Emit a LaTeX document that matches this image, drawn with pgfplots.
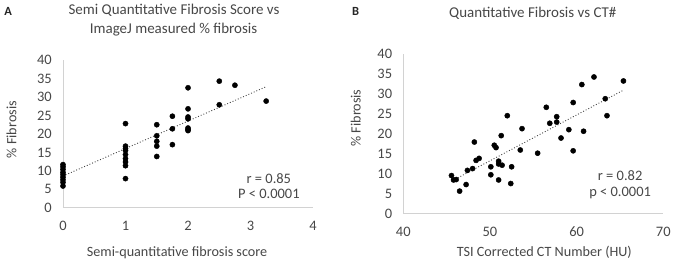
\documentclass[border=0pt]{standalone}
\usepackage{fontspec}
\setmainfont{Carlito}
\usepackage{pgfplots}
\pgfplotsset{compat=1.18}
\colorlet{txt}{black!72}
\begin{document}
\fontsize{13}{15}\selectfont
\begin{tikzpicture}[x=1pt,y=1pt]
\path (0,0) rectangle (673,259);
\pgfplotsset{
  common/.style={
    scale only axis,
    anchor=south west,
    axis x line*=bottom,
    axis y line*=left,
    axis line style={draw=gray!35, line width=0.8pt},
    major tick length=0pt,
    tick style={draw=none},
    /pgf/number format/assume math mode=true,
    tick label style={font=\fontsize{14.5}{16}\selectfont, text=txt},
    yticklabel style={anchor=east, inner sep=0pt, xshift=-11pt},
    xticklabel style={anchor=north, inner sep=0pt, yshift=-13pt},
    clip=false,
  },
  pts/.style={only marks, mark=*, mark size=2.6pt, color=black},
  trend/.style={no marks, dotted, line width=0.9pt, color=black!75},
}
% Panel A
\begin{axis}[common, at={(61.7pt,54pt)}, width=250.6pt, height=148pt,
  xmin=0, xmax=4, ymin=0, ymax=40, xtick={0,1,2,3,4}, ytick={0,5,...,40}]
\addplot[pts] coordinates {
 (0,11.7) (0,11.1) (0,10.4) (0,9.6) (0,9.0) (0,8.3) (0,7.6) (0,6.9) (0,5.9)
 (1,22.8) (1,16.7) (1,16.0) (1,15.5) (1,14.4) (1,13.3) (1,12.4) (1,11.4) (1,7.9)
 (1.5,22.5) (1.5,19.5) (1.5,18.0) (1.5,16.7) (1.5,13.9)
 (1.75,24.8) (1.75,21.4) (1.75,17.1)
 (2,32.5) (2,26.8) (2,24.6) (2,24.1) (2,21.6) (2,21.2) (2,20.9)
 (2.5,34.3) (2.5,27.9) (2.75,33.2) (3.25,28.9)
};
\addplot[trend] coordinates {(0,8.6) (3.25,32.8)};
\end{axis}
% Panel B
\begin{axis}[common, at={(402.7pt,48.3pt)}, width=260.6pt, height=160pt,
  xmin=40, xmax=70, ymin=0, ymax=40, xtick={40,50,60,70}, ytick={0,5,...,40}]
\addplot[pts] coordinates {
 (45.56,9.5) (45.8,8.4) (46.1,8.5) (46.5,5.6) (47.25,7.25) (47.4,10.8)
 (48.0,11.25) (48.2,17.9) (48.4,13.3) (48.75,13.8) (50.1,11.7) (50.1,9.7)
 (50.5,17.1) (50.7,16.5) (51.0,13.1) (51.0,12.4) (51.0,8.4) (51.3,19.5)
 (51.4,12.1) (52.0,24.5) (52.5,11.7) (52.4,7.5) (53.5,15.9) (53.7,21.25)
 (55.5,15.1) (56.5,26.6) (56.9,22.6) (57.7,24.25) (57.7,22.9) (58.2,18.9)
 (59.1,21.0) (59.6,27.8) (59.6,15.7) (60.6,32.3) (60.8,20.6) (62.0,34.2)
 (63.3,28.75) (63.5,24.5) (65.4,33.2)
};
\addplot[trend] coordinates {(46.0,8.6) (65.4,30.9)};
\end{axis}
% Texts
\node[font=\bfseries\fontsize{12.5}{14}\selectfont, text=black!85] at (6.7,250.7) {A};
\node[font=\bfseries\fontsize{12.5}{14}\selectfont, text=black!85] at (355,250.7) {B};
\node[font=\fontsize{15}{17}\selectfont, text=txt] at (173,251.7) {Semi Quantitative Fibrosis Score vs};
\node[font=\fontsize{15}{17}\selectfont, text=txt] at (172.5,233) {ImageJ measured \% fibrosis};
\node[font=\fontsize{15}{17}\selectfont, text=txt] at (532.5,249) {Quantitative Fibrosis vs CT\#};
\node[font=\fontsize{14.2}{16}\selectfont, text=txt] at (176,9) {Semi-quantitative fibrosis score};
\node[font=\fontsize{14.2}{16}\selectfont, text=txt] at (544,9) {TSI Corrected CT Number (HU)};
\node[font=\fontsize{14.2}{16}\selectfont, text=txt, rotate=90] at (10,132.3) {\% Fibrosis};
\node[font=\fontsize{14.2}{16}\selectfont, text=txt, rotate=90] at (355,144) {\% Fibrosis};
\node[font=\fontsize{14.5}{16}\selectfont, text=txt, align=center] at (268,75.7) {r = 0.85\\[-0.5pt]P < 0.0001};
\node[font=\fontsize{14.5}{16}\selectfont, text=txt, align=center] at (620,77.3) {r = 0.82\\[-0.5pt]p < 0.0001};
\end{tikzpicture}
\end{document}
